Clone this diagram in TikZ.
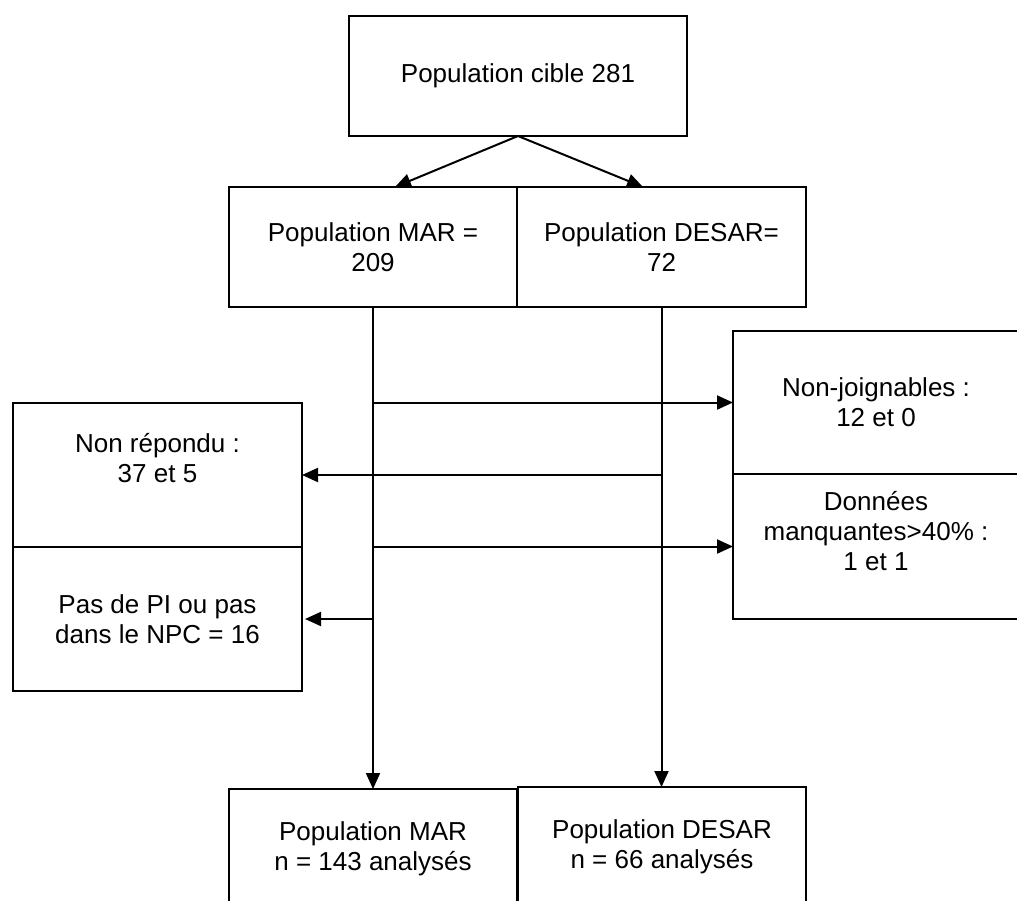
\documentclass[tikz,border=0pt]{standalone}
\usepackage{fontspec}
\setmainfont{Liberation Sans}
\usetikzlibrary{arrows.meta,calc}
\begin{document}
\begin{tikzpicture}[x=1pt,y=-1pt,
  txt/.style={align=center,inner sep=0pt,font=\fontsize{26}{30}\selectfont},
  box/.style n args={2}{draw,line width=2pt,minimum width=#1,minimum height=#2,
    inner sep=0pt,outer sep=0pt,txt},
  arr/.style={line width=2pt,-{Triangle[length=16pt,width=14pt]}}]
\useasboundingbox (0,0) rectangle (1017,900);
\clip (0,0) rectangle (1017,900);
\node[box={338pt}{120pt}] (top) at (518,76) {Population cible 281};
\node[box={288pt}{120pt}] (mar) at (373,247) {Population MAR =\\209};
\node[box={289pt}{120pt}] (desar) at (661.5,247) {Population DESAR=\\72};
\node[box={289pt}{144pt}] (lt) at (157.5,475) {};
\node[txt] (lttext) at ([yshift=17pt]lt.center) {Non répondu :\\37 et 5};
\node[box={289pt}{144pt}] (lb) at (157.5,619) {Pas de PI ou pas\\dans le NPC = 16};
\node[box={286pt}{143pt}] (rt) at (876,402.5) {Non-joignables :\\12 et 0};
\node[box={286pt}{145pt}] (rb) at (876,546.5) {};
\node[txt] (rbtext) at ([yshift=15pt]rb.center) {Données\\manquantes>40\% :\\1 et 1};
\node[box={288pt}{120pt}] (bm) at (373,849) {Population MAR\\n = 143 analysés};
\node[box={288pt}{120pt}] (bd) at (662,847) {Population DESAR\\n = 66 analysés};
\draw[arr] (top.south) -- ([xshift=22pt]mar.north);
\draw[arr] (top.south) -- ([xshift=-18.5pt]desar.north);
\draw[arr] (mar.south) -- (bm.north);
\draw[arr] (desar.south) -- (desar.south |- bd.north);
\draw[arr] (mar.south |- rt.west) -- (rt.west);
\draw[arr] (desar.south |- lt.east) -- (lt.east);
\draw[arr] (mar.south |- rb.west) -- (rb.west);
\draw[arr] (mar.south |- lb.east) -- ([xshift=3pt]lb.east);
\end{tikzpicture}
\end{document}
